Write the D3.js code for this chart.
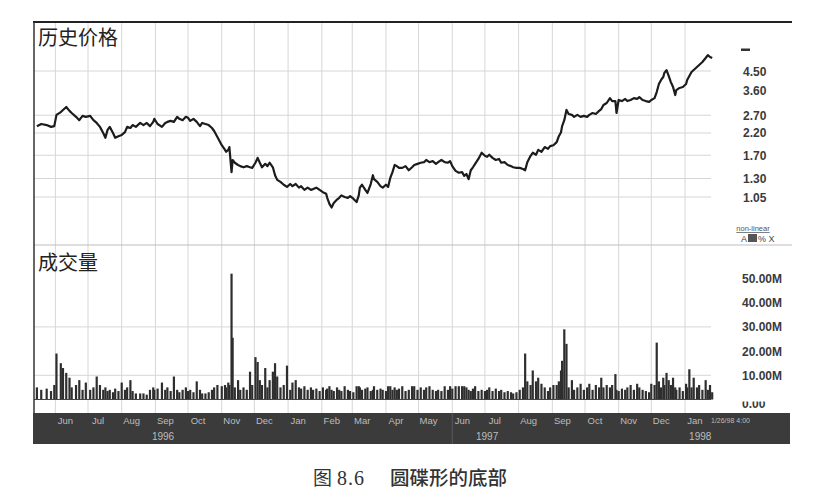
<!DOCTYPE html>
<html><head><meta charset="utf-8">
<script src="https://cdn.jsdelivr.net/npm/d3@7/dist/d3.min.js"></script>
<style>body{margin:0;background:#fff;} svg{display:block}</style>
</head><body>
<svg id="chart" width="825" height="501"></svg>
<script>
// ---------- DATA ----------
const dates = [
"1996-05-15","1996-05-19","1996-05-24","1996-05-28","1996-05-31","1996-06-02","1996-06-06","1996-06-08","1996-06-11","1996-06-14",
"1996-06-16","1996-06-20","1996-06-23","1996-06-26","1996-06-29","1996-07-03","1996-07-06","1996-07-09","1996-07-12","1996-07-15",
"1996-07-17","1996-07-19","1996-07-21","1996-07-24","1996-07-26","1996-07-29","1996-08-01","1996-08-04","1996-08-06","1996-08-09",
"1996-08-11","1996-08-14","1996-08-18","1996-08-21","1996-08-24","1996-08-27","1996-08-30","1996-08-31","1996-09-03","1996-09-07",
"1996-09-10","1996-09-12","1996-09-15","1996-09-18","1996-09-21","1996-09-23","1996-09-26","1996-09-29","1996-10-01","1996-10-03",
"1996-10-06","1996-10-09","1996-10-12","1996-10-14","1996-10-17","1996-10-20","1996-10-23","1996-10-25","1996-10-28","1996-11-01",
"1996-11-04","1996-11-05","1996-11-07","1996-11-08","1996-11-10","1996-11-11","1996-11-13","1996-11-16","1996-11-18","1996-11-21",
"1996-11-24","1996-11-27","1996-11-29","1996-12-02","1996-12-04","1996-12-06","1996-12-08","1996-12-11","1996-12-13","1996-12-15",
"1996-12-18","1996-12-20","1996-12-22","1996-12-25","1996-12-28","1996-12-31","1997-01-03","1997-01-05","1997-01-08","1997-01-11",
"1997-01-13","1997-01-16","1997-01-19","1997-01-22","1997-01-24","1997-01-27","1997-01-30","1997-02-02","1997-02-05","1997-02-06",
"1997-02-08","1997-02-10","1997-02-12","1997-02-15","1997-02-17","1997-02-19","1997-02-22","1997-02-25","1997-02-27","1997-03-02",
"1997-03-05","1997-03-07","1997-03-08","1997-03-10","1997-03-13","1997-03-15","1997-03-18","1997-03-20","1997-03-21","1997-03-24",
"1997-03-27","1997-03-29","1997-04-01","1997-04-03","1997-04-05","1997-04-07","1997-04-09","1997-04-11","1997-04-13","1997-04-16",
"1997-04-19","1997-04-22","1997-04-25","1997-04-27","1997-04-30","1997-05-03","1997-05-06","1997-05-08","1997-05-11","1997-05-14",
"1997-05-17","1997-05-19","1997-05-22","1997-05-25","1997-05-28","1997-05-30","1997-06-01","1997-06-04","1997-06-07","1997-06-10",
"1997-06-12","1997-06-14","1997-06-16","1997-06-18","1997-06-20","1997-06-22","1997-06-25","1997-06-28","1997-07-01","1997-07-03",
"1997-07-05","1997-07-08","1997-07-11","1997-07-14","1997-07-16","1997-07-19","1997-07-22","1997-07-25","1997-07-27","1997-07-30",
"1997-08-02","1997-08-05","1997-08-07","1997-08-09","1997-08-12","1997-08-14","1997-08-17","1997-08-19","1997-08-22","1997-08-25",
"1997-08-28","1997-08-30","1997-09-02","1997-09-05","1997-09-07","1997-09-09","1997-09-10","1997-09-12","1997-09-14","1997-09-16",
"1997-09-19","1997-09-21","1997-09-24","1997-09-27","1997-09-30","1997-10-03","1997-10-05","1997-10-08","1997-10-11","1997-10-14",
"1997-10-16","1997-10-18","1997-10-21","1997-10-24","1997-10-26","1997-10-29","1997-10-30","1997-11-01","1997-11-04","1997-11-07",
"1997-11-09","1997-11-12","1997-11-15","1997-11-18","1997-11-20","1997-11-23","1997-11-26","1997-11-29","1997-12-01","1997-12-04",
"1997-12-06","1997-12-08","1997-12-10","1997-12-12","1997-12-13","1997-12-15","1997-12-17","1997-12-19","1997-12-21","1997-12-23",
"1997-12-24","1997-12-27","1997-12-30","1998-01-02","1998-01-03","1998-01-05","1998-01-07","1998-01-09","1998-01-12","1998-01-14",
"1998-01-17","1998-01-20","1998-01-22","1998-01-24","1998-01-26"
];
const prices = [
2.38,2.44,2.41,2.36,2.38,2.71,2.80,2.87,2.97,2.84,
2.77,2.65,2.55,2.68,2.65,2.68,2.55,2.47,2.36,2.20,
2.08,2.28,2.36,2.20,2.08,2.12,2.15,2.22,2.36,2.33,
2.41,2.36,2.47,2.41,2.47,2.38,2.50,2.59,2.44,2.36,
2.47,2.50,2.53,2.50,2.65,2.59,2.55,2.65,2.62,2.53,
2.59,2.50,2.38,2.47,2.44,2.41,2.33,2.25,2.10,1.91,
1.81,1.77,1.81,1.87,1.40,1.61,1.56,1.52,1.50,1.48,
1.50,1.48,1.47,1.56,1.65,1.56,1.48,1.54,1.50,1.56,
1.48,1.35,1.28,1.25,1.21,1.18,1.22,1.19,1.22,1.17,
1.19,1.14,1.17,1.14,1.15,1.17,1.14,1.11,1.09,1.04,
0.97,0.93,0.98,1.02,1.04,1.07,1.05,1.04,1.06,1.03,
0.99,1.07,1.17,1.21,1.14,1.10,1.22,1.35,1.29,1.25,
1.19,1.17,1.21,1.18,1.31,1.40,1.52,1.50,1.47,1.47,
1.50,1.43,1.48,1.52,1.54,1.56,1.57,1.61,1.57,1.59,
1.54,1.57,1.61,1.57,1.56,1.59,1.50,1.42,1.39,1.40,
1.34,1.37,1.29,1.43,1.48,1.54,1.63,1.75,1.69,1.67,
1.71,1.65,1.61,1.63,1.56,1.57,1.52,1.50,1.48,1.47,
1.47,1.45,1.43,1.57,1.69,1.75,1.71,1.81,1.77,1.87,
1.83,1.89,1.91,1.98,2.12,2.22,2.38,2.55,2.87,2.74,
2.71,2.65,2.71,2.65,2.68,2.65,2.71,2.77,2.74,2.84,
2.90,3.04,3.11,3.29,3.18,3.18,2.77,3.22,3.18,3.26,
3.18,3.22,3.29,3.26,3.33,3.22,3.18,3.15,3.22,3.29,
3.53,3.87,4.06,4.20,4.40,4.55,4.25,3.96,3.74,3.41,
3.61,3.70,3.74,3.87,4.06,4.25,4.45,4.55,4.71,4.82,
4.99,5.23,5.41,5.29,5.23
];
// volume in millions
const volumes = [
5,4,4.5,3.5,6,19,15,13,11,9,
5,6,8,4,7,4,5,9.5,6,4,
5,3.5,4,3,4.5,3.5,7,4,5,8,
3.5,2.5,2.5,2.5,2,4,5,4,4.5,7,
4,5,3.5,9.5,4,3,4,5,3.5,4,
3,7.5,4,2.5,2.5,3,4,5,6,5.5,
6,5,7,6,52,25.5,5,8,4,5,
4,11.5,6,17.5,15.5,8,6,13,5,8,
11.5,15,9.5,5,6,14,4,7,8,5,
4.5,5.5,4,5,4,4.5,3.5,5,4,4.5,
5.5,4,3.5,5,4,3.5,5.5,4,3.5,3,
5.5,5.5,5,4,4.5,5,3.5,4,5.5,4,
4.5,4,3.5,5.5,5.5,4,5,4,4.5,5.5,
3.5,4,5.5,5.5,4,5,4,5,5.5,4,
3.5,4,3.5,5.5,4,5.5,4.5,5.5,5.5,5.5,
5.5,5,4,3.5,4.5,5.5,3.5,4,3.5,4,
5,3.5,4.5,3.5,4,3,3.5,3,2.5,3,
4,5,19,7.5,6,12,7.5,9,6.5,5,
3.5,5,6,6,7.5,12,16,29,23,5,
8,4,5,6.5,4,5,6.5,4,6,5,
9,5,6,5,6,10.5,4,3.5,4.5,4,
5,6,4,6.5,5,4,3.5,3,6.5,6,
23.5,7.5,5,9,6,11,8,6,9,5,
4,5,3.5,6.5,5,12.5,5,9,5,6,
4,8,4,6,3
];
const priceTicks = ["4.50","3.60","2.70","2.20","1.70","1.30","1.05"];
const priceGridValues = [4.50, 2.70, 2.20, 1.70, 1.30, 1.05];
const volumeTicks = [50, 40, 30, 20, 10];
const volumeGridValues = [10, 30];
const yearLabels = [["1996-09-08","1996"],["1997-07-03","1997"],["1998-01-15","1998"]];
const panelTitles = ["历史价格", "成交量"];
const captionParts = ["图", "8.6", "圆碟形的底部"];

// ---------- DRAWING ----------
const svg = d3.select("#chart");
const parse = d3.timeParse("%Y-%m-%d");
const pts = dates.map((d,i)=>({date:parse(d), price:prices[i], vol:volumes[i]}));

const plotLeft = 34, plotRight = 711, frameRight = 792;
const x = d3.scaleTime()
  .domain([new Date(1996,6,1), new Date(1998,0,1)])
  .range([88, 685]);
const yP = d3.scaleLog().domain([1.05, 4.5]).range([197, 71]);
const yV = d3.scaleLinear().domain([0, 50]).range([399.5, 278.5]);

const priceTop = 22, priceBottom = 245, volBottom = 413, barTop = 413, barBottom = 444;

svg.append("rect").attr("width",825).attr("height",501).attr("fill","#fff");

// grid
const gridColor = "#d6d6d6";
const months = d3.timeMonth.range(new Date(1996,5,1), new Date(1998,0,2));
svg.append("g").selectAll("line").data(months).join("line")
  .attr("x1",d=>x(d)).attr("x2",d=>x(d))
  .attr("y1",priceTop).attr("y2",volBottom)
  .attr("stroke",gridColor).attr("stroke-width",1);
svg.append("g").selectAll("line").data(priceGridValues).join("line")
  .attr("x1",plotLeft).attr("x2",plotRight)
  .attr("y1",d=>yP(d)).attr("y2",d=>yP(d))
  .attr("stroke",gridColor).attr("stroke-width",1);
svg.append("g").selectAll("line").data(volumeGridValues).join("line")
  .attr("x1",plotLeft).attr("x2",plotRight)
  .attr("y1",d=>yV(d)).attr("y2",d=>yV(d))
  .attr("stroke",gridColor).attr("stroke-width",1);

// panel separator
svg.append("line").attr("x1",plotLeft).attr("x2",frameRight)
  .attr("y1",priceBottom).attr("y2",priceBottom)
  .attr("stroke","#bdbdbd").attr("stroke-width",1.2);

// volume bars
svg.append("g").selectAll("rect").data(pts).join("rect")
  .attr("x",d=>x(d.date)-1.1).attr("width",2.2)
  .attr("y",d=>yV(d.vol)).attr("height",d=>yV(0)-yV(d.vol))
  .attr("fill","#2e2e2e");
svg.append("line").attr("x1",plotLeft).attr("x2",plotRight)
  .attr("y1",yV(0)).attr("y2",yV(0)).attr("stroke","#444").attr("stroke-width",1);

// price line
svg.append("path").datum(pts)
  .attr("fill","none").attr("stroke","#1c1c1c").attr("stroke-width",2.2)
  .attr("stroke-linejoin","round")
  .attr("d", d3.line().x(d=>x(d.date)).y(d=>yP(d.price)));

// frame
svg.append("line").attr("x1",33).attr("x2",frameRight).attr("y1",priceTop).attr("y2",priceTop)
  .attr("stroke","#222").attr("stroke-width",2);
svg.append("line").attr("x1",plotLeft).attr("x2",plotLeft).attr("y1",priceTop).attr("y2",barBottom)
  .attr("stroke","#333").attr("stroke-width",1.5);

// panel titles
const cjk = "'Noto Sans CJK SC', sans-serif";
svg.append("text").attr("x",38).attr("y",45).text(panelTitles[0])
  .attr("font-family",cjk).attr("font-size",20).attr("fill","#222");
svg.append("text").attr("x",38).attr("y",270).text(panelTitles[1])
  .attr("font-family",cjk).attr("font-size",20).attr("fill","#222");

// right axis labels
const axFont = "'Liberation Sans', Arial, sans-serif";
svg.append("g").selectAll("text").data(priceTicks).join("text")
  .attr("x",743).attr("y",d=>yP(+d)+4.5).text(d=>d)
  .attr("font-family",axFont).attr("font-weight","bold").attr("font-size",12).attr("fill","#3a3a3a");
svg.append("rect").attr("x",741).attr("y",48.5).attr("width",9).attr("height",2.5).attr("fill","#333");
svg.append("g").selectAll("text").data(volumeTicks).join("text")
  .attr("x",742).attr("y",d=>yV(d)+4.5).text(d=>d3.format(".2f")(d)+"M")
  .attr("font-family",axFont).attr("font-weight","bold").attr("font-size",12).attr("fill","#3a3a3a");
svg.append("clipPath").attr("id","zclip").append("rect").attr("x",700).attr("y",401.5).attr("width",100).attr("height",12);
svg.append("text").attr("x",742).attr("y",yV(0)+8).text("0.00").attr("clip-path","url(#zclip)")
  .attr("font-family",axFont).attr("font-weight","bold").attr("font-size",12).attr("fill","#3a3a3a");

// non-linear switch
svg.append("text").attr("x",753).attr("y",231).attr("text-anchor","middle").text("non-linear")
  .attr("font-family",axFont).attr("font-size",7.5).attr("fill","#555").attr("text-decoration","underline");
svg.append("text").attr("x",741).attr("y",242).text("A")
  .attr("font-family",axFont).attr("font-size",9).attr("fill","#444");
svg.append("rect").attr("x",748).attr("y",234).attr("width",9).attr("height",8).attr("fill","#555");
svg.append("text").attr("x",758).attr("y",242).text("% X")
  .attr("font-family",axFont).attr("font-size",9).attr("fill","#444");

// bottom date bar
svg.append("rect").attr("x",33).attr("y",barTop).attr("width",frameRight-2-33).attr("height",barBottom-barTop)
  .attr("fill","#3b3b3b");
svg.append("line").attr("x1",x(new Date(1997,5,1))).attr("x2",x(new Date(1997,5,1)))
  .attr("y1",barTop).attr("y2",barBottom).attr("stroke","#5a5a5a").attr("stroke-width",1);
const fmt = d3.timeFormat("%b");
svg.append("g").selectAll("text").data(months).join("text")
  .attr("x",d=>x(d)+10).attr("y",424).attr("text-anchor","middle").text(d=>fmt(d))
  .attr("font-family",axFont).attr("font-size",9.5).attr("fill","#bdbdbd");
svg.append("g").selectAll("text").data(yearLabels).join("text")
  .attr("x",d=>x(parse(d[0]))).attr("y",440).attr("text-anchor","middle").text(d=>d[1])
  .attr("font-family",axFont).attr("font-size",10).attr("fill","#bdbdbd");
svg.append("text").attr("x",711).attr("y",423).text("1/26/98 4:00")
  .attr("font-family",axFont).attr("font-size",7).attr("fill","#bdbdbd");

// caption
svg.append("text").attr("x",313).attr("y",485).text(captionParts[0])
  .attr("font-family",cjk).attr("font-size",19).attr("fill","#333");
svg.append("text").attr("x",337).attr("y",485).text(captionParts[1])
  .attr("font-family","'Liberation Serif', serif").attr("font-size",20).attr("letter-spacing",1).attr("fill","#333");
svg.append("text").attr("x",390).attr("y",485).text(captionParts[2])
  .attr("font-family",cjk).attr("font-size",19.5).attr("font-weight",500).attr("fill","#333");
</script>
</body></html>
